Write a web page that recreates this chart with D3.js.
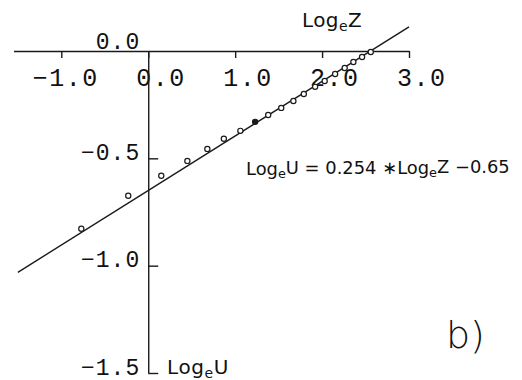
<!DOCTYPE html>
<html>
<head>
<meta charset="utf-8">
<script src="https://cdn.jsdelivr.net/npm/d3@7"></script>
<style>
  html, body { margin: 0; padding: 0; background: #fff; }
  svg { display: block; }
  .tick-label { font-family: "Liberation Mono", "DejaVu Sans Mono", monospace; fill: #111; }
  .name { font-family: "DejaVu Sans", sans-serif; fill: #111; }
</style>
</head>
<body>
<svg id="chart" width="522" height="380"></svg>
<script>
// Measured points: natural log of Z against natural log of U
const logZ = [-0.77, -0.23, 0.15, 0.45, 0.68, 0.87, 1.06, 1.23, 1.38, 1.53,
              1.67, 1.79, 1.92, 2.03, 2.15, 2.26, 2.36, 2.46, 2.56];
const logU = [-0.828, -0.674, -0.581, -0.512, -0.456, -0.409, -0.372, -0.330, -0.298, -0.265,
              -0.233, -0.200, -0.167, -0.140, -0.107, -0.079, -0.051, -0.028, -0.005];
// Regression line: logU = slope * logZ + intercept
const slope = 0.254;
const intercept = -0.65;
const fitRange = [-1.5, 3.0];
// Axis ticks
const xTicks = [-1, 0, 1, 2, 3];
const yTicks = [0, -0.5, -1.0, -1.5];

const svg = d3.select("#chart");
const x = d3.scaleLinear().domain([-1.55, 3]).range([13.5, 409]);
const y = d3.scaleLinear().domain([0, -1.5]).range([51, 373]);
const fmt = d3.format(".1f");
const ink = "#1a1a1a";

// Horizontal axis (log Z), ticks hanging below the line
const xAxis = svg.append("g")
  .attr("transform", `translate(0,${y(0)})`)
  .call(d3.axisBottom(x).tickValues(xTicks).tickSize(7).tickSizeOuter(0).tickFormat(fmt));
xAxis.select(".domain").attr("stroke", ink).attr("stroke-width", 1.4);
xAxis.selectAll(".tick line").attr("stroke", ink).attr("stroke-width", 1.4);
xAxis.selectAll(".tick text")
  .attr("class", "tick-label")
  .attr("font-size", 25)
  .attr("letter-spacing", 1.5)
  .attr("text-anchor", "end")
  .attr("x", 37)
  .attr("y", 35)
  .attr("dy", 0);

// Vertical axis (log U), ticks pointing right, labels to the left
const yAxis = svg.append("g")
  .attr("transform", `translate(${x(0)},0)`)
  .call(d3.axisRight(y).tickValues(yTicks).tickSize(10).tickSizeOuter(0).tickFormat(fmt));
yAxis.select(".domain").attr("stroke", ink).attr("stroke-width", 1.4);
yAxis.selectAll(".tick line")
  .attr("stroke", ink).attr("stroke-width", 1.4)
  .attr("opacity", d => d === 0 ? 0 : 1);
yAxis.selectAll(".tick text")
  .attr("class", "tick-label")
  .attr("font-size", 23)
  .attr("letter-spacing", 1)
  .attr("text-anchor", "end")
  .attr("x", -8)
  .attr("dy", 0)
  .attr("y", d => d === 0 ? -3 : 1);

// Fitted line
const fitLine = d3.line().x(d => x(d)).y(d => y(slope * d + intercept));
svg.append("path")
  .datum(fitRange)
  .attr("d", fitLine)
  .attr("fill", "none")
  .attr("stroke", ink)
  .attr("stroke-width", 1.4);

// Data points as small open circles
svg.append("g").selectAll("circle")
  .data(logZ.map((z, i) => [z, logU[i]]))
  .join("circle")
  .attr("cx", d => x(d[0]))
  .attr("cy", d => y(d[1]))
  .attr("r", 2.6)
  .attr("fill", (d, i) => i === 7 ? ink : "#fff")
  .attr("stroke", ink)
  .attr("stroke-width", 1.2);

// Axis names
const zName = svg.append("text").attr("class", "name")
  .attr("x", 302).attr("y", 27).attr("font-size", 20).attr("letter-spacing", 0.4);
zName.append("tspan").text("Log");
zName.append("tspan").attr("font-size", 14).attr("dy", 4).text("e");
zName.append("tspan").attr("dy", -4).text("Z");

const uName = svg.append("text").attr("class", "name")
  .attr("x", 167).attr("y", 374).attr("font-size", 20).attr("letter-spacing", 0.6);
uName.append("tspan").text("Log");
uName.append("tspan").attr("font-size", 14).attr("dy", 4).text("e");
uName.append("tspan").attr("dy", -4).text("U");

// Regression equation, sized so it runs from x=246 to x=510
const eqSize = 18;
const eq = svg.append("text").attr("class", "name")
  .attr("x", 246).attr("y", 175).attr("font-size", eqSize);
eq.append("tspan").text("Log");
eq.append("tspan").attr("font-size", "0.72em").attr("dy", "0.2em").text("e");
eq.append("tspan").attr("dy", "-0.2em").text(`U = ${slope} `);
eq.append("tspan").text("\u2217");
eq.append("tspan").text("Log");
eq.append("tspan").attr("font-size", "0.72em").attr("dy", "0.2em").text("e");
eq.append("tspan").attr("dy", "-0.2em").text(`Z \u2212${Math.abs(intercept)}`);
const eqWidth = eq.node().getBBox().width;
if (eqWidth > 0) eq.attr("font-size", Math.min(20, eqSize * 264 / eqWidth));

// Panel tag
svg.append("text").attr("class", "name")
  .attr("x", 446).attr("y", 348)
  .attr("font-size", 38).attr("font-weight", 200)
  .text("b)");
</script>
</body>
</html>
